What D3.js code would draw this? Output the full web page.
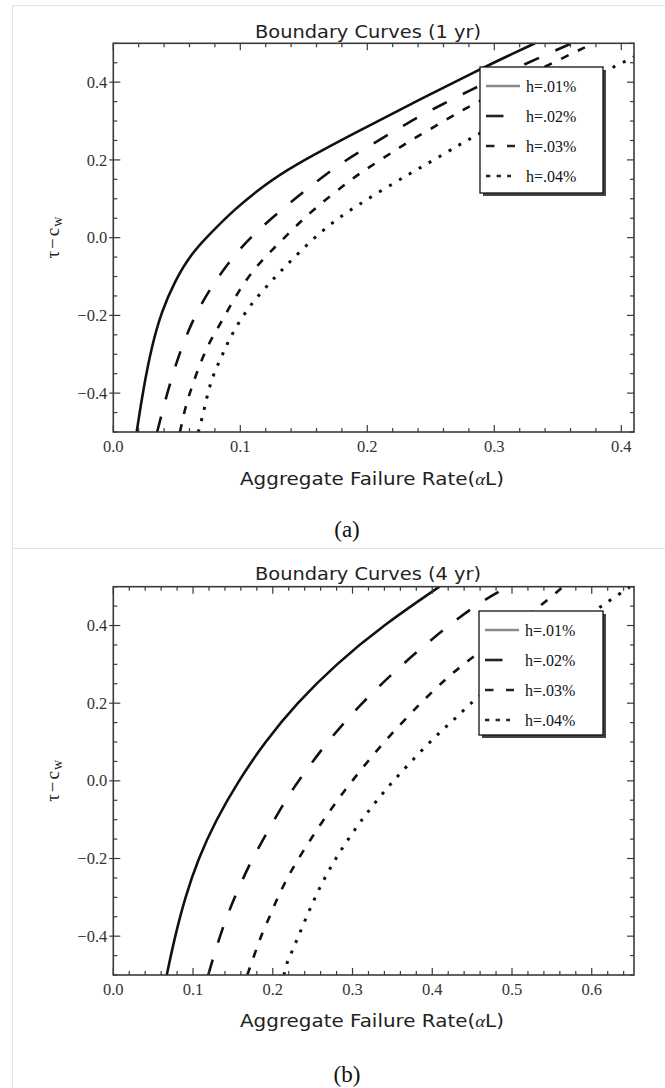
<!DOCTYPE html>
<html><head><meta charset="utf-8">
<script src="https://cdn.jsdelivr.net/npm/d3@7"></script>
<style>body{margin:0;background:#fff}svg{display:block}</style>
</head><body>
<script>
// ---------- DATA ----------
const legendLabels = ["h=.01%", "h=.02%", "h=.03%", "h=.04%"];
const titles = ["Boundary Curves (1 yr)", "Boundary Curves (4 yr)"];
const captions = ["(a)", "(b)"];
const xTicks1 = [0.0, 0.1, 0.2, 0.3, 0.4];
const xTicks4 = [0.0, 0.1, 0.2, 0.3, 0.4, 0.5, 0.6];
const yTicks = [-0.4, -0.2, 0.0, 0.2, 0.4];

// 1 yr panel
const yr1_h01_x = [0.0184,0.0236,0.0302,0.038,0.0486,0.0617,0.0761,0.0958,0.1168,0.141,0.1917,0.244,0.289,0.3045,0.332];
const yr1_h01_y = [-0.5,-0.39,-0.28,-0.19,-0.11,-0.04,0.01,0.074,0.13,0.184,0.272,0.36,0.433,0.458,0.5];
const yr1_h02_x = [0.0345,0.0433,0.0525,0.063,0.0761,0.0932,0.11,0.135,0.155,0.1785,0.205,0.231,0.2546,0.281,0.31,0.34,0.361];
const yr1_h02_y = [-0.5,-0.388,-0.293,-0.208,-0.131,-0.053,0.008,0.079,0.131,0.191,0.242,0.294,0.336,0.379,0.425,0.47,0.5];
const yr1_h03_x = [0.0525,0.0565,0.0617,0.0696,0.0775,0.0853,0.0919,0.0998,0.1076,0.118,0.1287,0.139,0.1496,0.16,0.173,0.186,0.197,0.21,0.223,0.235,0.248,0.261,0.274,0.286,0.33,0.378];
const yr1_h03_y = [-0.5,-0.438,-0.385,-0.312,-0.258,-0.216,-0.176,-0.133,-0.095,-0.055,-0.02,0.014,0.048,0.078,0.113,0.146,0.172,0.199,0.227,0.252,0.276,0.302,0.326,0.347,0.425,0.5];
const yr1_h04_x = [0.0669,0.0696,0.0735,0.0775,0.084,0.0893,0.0945,0.105,0.1168,0.1273,0.1378,0.155,0.173,0.1917,0.2126,0.2336,0.252,0.273,0.2835,0.33,0.387,0.41];
const yr1_h04_y = [-0.5,-0.469,-0.413,-0.362,-0.315,-0.276,-0.242,-0.186,-0.139,-0.102,-0.066,-0.01,0.041,0.082,0.124,0.165,0.199,0.24,0.259,0.345,0.427,0.465];

// 4 yr panel
const yr4_h01_x = [0.067,0.0774,0.09,0.1067,0.1276,0.157,0.19,0.23,0.279,0.338,0.409];
const yr4_h01_y = [-0.5,-0.4,-0.3,-0.2,-0.105,0.0,0.1,0.2,0.3,0.4,0.5];
const yr4_h02_x = [0.119,0.136,0.1527,0.1715,0.1925,0.2154,0.232,0.268,0.311,0.362,0.42,0.46,0.495];
const yr4_h02_y = [-0.5,-0.382,-0.297,-0.211,-0.134,-0.052,0.0,0.1,0.2,0.3,0.4,0.46,0.5];
const yr4_h03_x = [0.168,0.178,0.186,0.1966,0.205,0.2154,0.226,0.263,0.299,0.339,0.385,0.418,0.441,0.496,0.5375,0.564];
const yr4_h03_y = [-0.5,-0.442,-0.395,-0.348,-0.305,-0.262,-0.22,-0.1,0.0,0.1,0.2,0.265,0.303,0.39,0.453,0.5];
const yr4_h04_x = [0.214,0.2175,0.224,0.252,0.278,0.311,0.35,0.41,0.4266,0.452,0.508,0.575,0.6086,0.621,0.648];
const yr4_h04_y = [-0.5,-0.468,-0.442,-0.3,-0.2,-0.1,0.0,0.128,0.155,0.209,0.3,0.4,0.445,0.462,0.5];

// ---------- LAYOUT ----------
const W = 665, H = 1088;
const svg = d3.select("body").append("svg").attr("width", W).attr("height", H);

const bc = "#e4e4e4";
svg.append("line").attr("x1",12.5).attr("x2",12.5).attr("y1",5).attr("y2",H).attr("stroke",bc);
svg.append("line").attr("x1",12.5).attr("x2",W).attr("y1",5.5).attr("y2",5.5).attr("stroke",bc);
svg.append("line").attr("x1",12.5).attr("x2",W).attr("y1",548.5).attr("y2",548.5).attr("stroke",bc);

const styles = [
  {color:"#111", dash:null, width:2.6, legColor:"#8a8a8a", legDash:null, legLen:34},
  {color:"#111", dash:"16,18", width:2.6, legColor:"#222", legDash:null, legLen:17.5},
  {color:"#111", dash:"8,10.5", width:2.6, legColor:"#222", legDash:"8.5,12.5", legLen:29},
  {color:"#111", dash:"3,8.5", width:3, legColor:"#222", legDash:"4.3,6.3", legLen:25}
];

const panels = [
  {title:titles[0], caption:captions[0], xmax:0.41, xt:xTicks1, top:43.3, bottom:432,
   titleY:38, xlabY:485, capY:537, leg:{x:480,y:67,w:123,h:126},
   series:[[yr1_h01_x,yr1_h01_y],[yr1_h02_x,yr1_h02_y],[yr1_h03_x,yr1_h03_y],[yr1_h04_x,yr1_h04_y]]},
  {title:titles[1], caption:captions[1], xmax:0.653, xt:xTicks4, top:586.7, bottom:975,
   titleY:580, xlabY:1027, capY:1082, leg:{x:479,y:611,w:124,h:124},
   series:[[yr4_h01_x,yr4_h01_y],[yr4_h02_x,yr4_h02_y],[yr4_h03_x,yr4_h03_y],[yr4_h04_x,yr4_h04_y]]}
];

const left = 113.3, right = 634;
const tickFont = "'Liberation Serif', 'Times New Roman', serif";
const sansFont = "'DejaVu Sans', Verdana, sans-serif";

panels.forEach((p, pi) => {
  const x = d3.scaleLinear().domain([0, p.xmax]).range([left, right]);
  const y = d3.scaleLinear().domain([-0.5, 0.5]).range([p.bottom, p.top]);
  const g = svg.append("g");

  const cid = "clip" + pi;
  svg.append("clipPath").attr("id", cid).append("rect")
    .attr("x", left).attr("y", p.top).attr("width", right-left).attr("height", p.bottom-p.top);

  const line = d3.line().x(d=>x(d[0])).y(d=>y(d[1])).curve(d3.curveBasis);
  p.series.forEach((s, si) => {
    const pts = s[0].map((v,i)=>[v, s[1][i]]);
    const st = styles[si];
    g.append("path").attr("d", line(pts)).attr("fill","none")
      .attr("stroke", st.color).attr("stroke-width", st.width)
      .attr("stroke-dasharray", st.dash).attr("stroke-linecap", "butt")
      .attr("clip-path", `url(#${cid})`);
  });

  const fc = "#3a3a3a";
  const xMinor = d3.range(0, p.xmax+1e-9, 0.02);
  const yMinor = d3.range(-0.5, 0.5+1e-9, 0.05);
  const isMajX = v => Math.abs(v*10 - Math.round(v*10)) < 1e-6;
  const isMajY = v => Math.abs(v*5 - Math.round(v*5)) < 1e-6;
  xMinor.forEach(v => {
    const L = isMajX(v) ? 7 : 4;
    g.append("line").attr("x1",x(v)).attr("x2",x(v)).attr("y1",p.bottom).attr("y2",p.bottom-L).attr("stroke",fc).attr("stroke-width",1.2);
    g.append("line").attr("x1",x(v)).attr("x2",x(v)).attr("y1",p.top).attr("y2",p.top+L).attr("stroke",fc).attr("stroke-width",1.2);
  });
  yMinor.forEach(v => {
    const maj = isMajY(v) && Math.abs(v) < 0.45;
    const L = maj ? 7 : 4;
    g.append("line").attr("x1",left-(maj?4:0)).attr("x2",left+L).attr("y1",y(v)).attr("y2",y(v)).attr("stroke",fc).attr("stroke-width",1.2);
    g.append("line").attr("x1",right).attr("x2",right-L).attr("y1",y(v)).attr("y2",y(v)).attr("stroke",fc).attr("stroke-width",1.2);
  });
  g.append("rect").attr("x",left).attr("y",p.top).attr("width",right-left).attr("height",p.bottom-p.top)
    .attr("fill","none").attr("stroke",fc).attr("stroke-width",1.6);

  const fmt = d3.format(".1f");
  p.xt.forEach(v => {
    g.append("text").attr("x", x(v)).attr("y", p.bottom+20).attr("text-anchor","middle")
      .attr("font-family", tickFont).attr("font-size", 16.5).attr("fill","#333").text(fmt(v));
  });
  yTicks.forEach(v => {
    g.append("text").attr("x", left-6).attr("y", y(v)).attr("dy","0.34em").attr("text-anchor","end")
      .attr("font-family", tickFont).attr("font-size", 16.5).attr("fill","#333").text(fmt(v));
  });

  g.append("text").attr("x", 368).attr("y", p.titleY).attr("text-anchor","middle")
    .attr("font-family", sansFont).attr("font-size", 17.5).attr("fill","#222")
    .attr("textLength", 226).attr("lengthAdjust","spacingAndGlyphs").text(p.title);

  const xl = g.append("text").attr("x", 372).attr("y", p.xlabY).attr("text-anchor","middle")
    .attr("font-family", sansFont).attr("font-size", 18).attr("fill","#222")
    .attr("textLength", 264).attr("lengthAdjust","spacingAndGlyphs");
  xl.append("tspan").text("Aggregate Failure Rate(");
  xl.append("tspan").attr("font-family", tickFont).attr("font-style","italic").attr("font-size",17).text("α");
  xl.append("tspan").text("L)");

  const yc = (p.top + p.bottom)/2;
  const yl = g.append("text").attr("transform", `translate(59,${yc}) rotate(-90)`).attr("text-anchor","middle")
    .attr("font-family", tickFont).attr("font-size", 19).attr("fill","#222");
  yl.append("tspan").text("τ");
  yl.append("tspan").attr("dx", 2).text("−");
  yl.append("tspan").attr("dx", 2).text("c");
  yl.append("tspan").attr("font-size", 14).attr("dx", 1).attr("dy", 3).text("w");

  g.append("text").attr("x", 347).attr("y", p.capY).attr("text-anchor","middle")
    .attr("font-family", tickFont).attr("font-size", 23).attr("fill","#111").text(p.caption);

  const L = p.leg;
  g.append("rect").attr("x",L.x+3).attr("y",L.y+3).attr("width",L.w).attr("height",L.h).attr("fill","#444");
  g.append("rect").attr("x",L.x).attr("y",L.y).attr("width",L.w).attr("height",L.h)
    .attr("fill","#fff").attr("stroke","#111").attr("stroke-width",1.3);
  legendLabels.forEach((lab, i) => {
    const ly = L.y + 19 + i*30;
    const st = styles[i];
    g.append("line").attr("x1", L.x+6).attr("x2", L.x+6+st.legLen).attr("y1", ly).attr("y2", ly)
      .attr("stroke", st.legColor).attr("stroke-width", 2.6).attr("stroke-dasharray", st.legDash);
    g.append("text").attr("x", L.x+46).attr("y", ly).attr("dy","0.35em")
      .attr("font-family", tickFont).attr("font-size", 16).attr("fill","#111").text(lab);
  });
});
</script>
</body></html>
